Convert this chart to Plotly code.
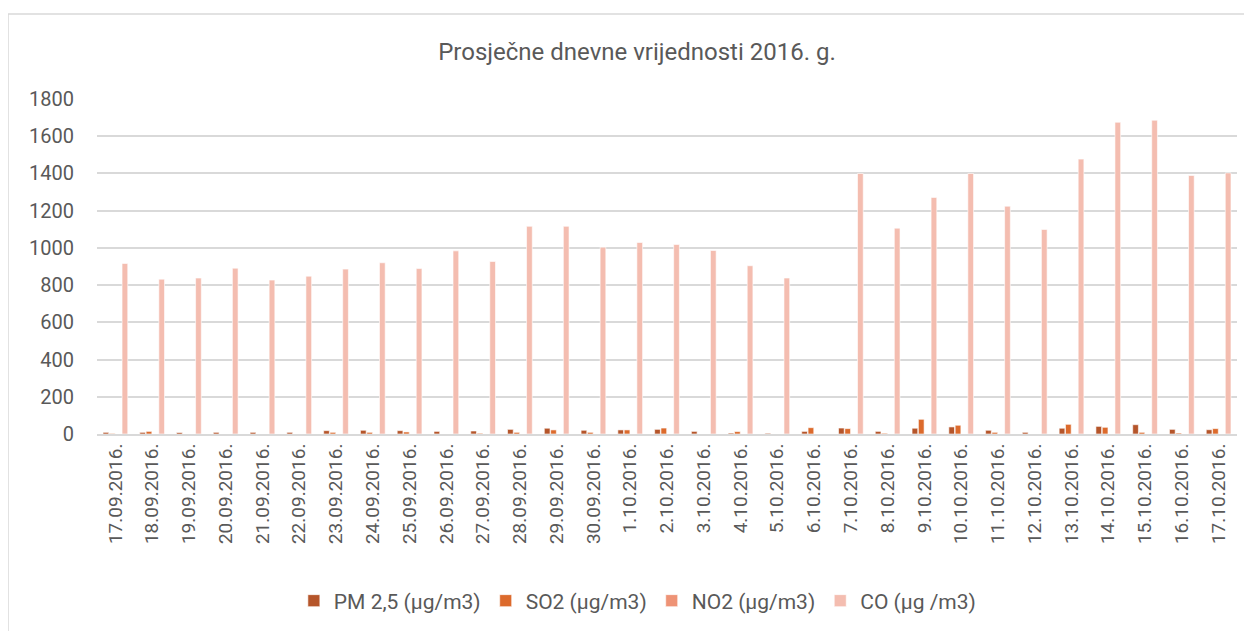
import plotly.graph_objects as go

dates = ["17.09.2016.", "18.09.2016.", "19.09.2016.", "20.09.2016.", "21.09.2016.",
         "22.09.2016.", "23.09.2016.", "24.09.2016.", "25.09.2016.", "26.09.2016.",
         "27.09.2016.", "28.09.2016.", "29.09.2016.", "30.09.2016.", "1.10.2016.",
         "2.10.2016.", "3.10.2016.", "4.10.2016.", "5.10.2016.", "6.10.2016.",
         "7.10.2016.", "8.10.2016.", "9.10.2016.", "10.10.2016.", "11.10.2016.",
         "12.10.2016.", "13.10.2016.", "14.10.2016.", "15.10.2016.", "16.10.2016.",
         "17.10.2016."]

pm25 = [9, 9, 8, 9, 9, 9, 18, 20, 18, 14, 16, 25, 31, 20, 22, 25, 14, 5, 4, 14,
        32, 14, 31, 38, 20, 9, 31, 41, 50, 25, 23]
so2 = [3, 14, 0, 0, 0, 0, 9, 9, 11, 0, 4, 9, 22, 9, 22, 32, 0, 13, 0, 34,
       29, 4, 79, 47, 9, 0, 52, 36, 9, 5, 29]
no2 = [0] * 31
co = [916, 832, 838, 891, 827, 848, 886, 920, 889, 984, 927, 1116, 1116, 1004, 1029,
      1018, 986, 904, 838, None, 1400, 1106, 1271, 1400, 1224, 1099, 1477, 1675, 1686,
      1389, 1403]

series_names = ["PM 2,5 (µg/m3)", "SO2 (µg/m3)", "NO2 (µg/m3)", "CO (µg /m3)"]
series_values = [pm25, so2, no2, co]
colors = ["#B5552A", "#DC6A2C", "#EE9376", "#F4BDB0"]

FONT = "Roboto"
GREY = "#595959"

# page body has an 8px margin: figure origin is at page (8, 8)
W, H = 1244, 623
L, T = 89, 91
PW, PH = 1140, 335

fig = go.Figure()
for name, vals, col in zip(series_names, series_values, colors):
    fig.add_trace(go.Bar(
        x=dates, y=vals, name=name,
        marker=dict(color=col, line=dict(color="white", width=0.6)),
    ))

fig.update_layout(
    width=W, height=H,
    margin=dict(l=L, r=W - L - PW, t=T, b=H - T - PH, autoexpand=False),
    paper_bgcolor="white", plot_bgcolor="white",
    barmode="group", bargap=0.31, bargroupgap=0.1,
    font=dict(family=FONT, color=GREY, size=19),
    title=dict(text="Prosječne dnevne vrijednosti 2016. g.",
               x=(637 - 8) / W, xanchor="center", xref="container",
               y=1 - (52 - 8) / H, yanchor="middle", yref="container",
               font=dict(family=FONT, size=24, color=GREY)),
    legend=dict(orientation="h", x=0.474, xanchor="center",
                y=(434 - 601) / PH, yanchor="middle",
                font=dict(family=FONT, size=21, color=GREY),
                itemwidth=30, tracegroupgap=0),
    showlegend=True,
)

fig.update_xaxes(
    type="category", tickangle=-90, showgrid=False, automargin=False,
    showline=True, linecolor="#D9D9D9", linewidth=2,
    ticks="", tickfont=dict(family=FONT, size=19, color=GREY),
)
fig.update_yaxes(
    range=[0, 1800], tickvals=[0, 200, 400, 600, 800, 1000, 1200, 1400, 1600, 1800],
    showgrid=True, gridcolor="#D9D9D9", gridwidth=1.5, automargin=False,
    zeroline=False, showline=False, ticks="",
    ticklabelstandoff=22,
    tickfont=dict(family=FONT, size=20, color=GREY),
)

# chart frame (top and left border as in the reference)
fx0 = (8 - 97) / PW
fy0 = (434 - 14) / PH
fig.add_shape(type="line", xref="paper", yref="paper",
              x0=fx0, x1=(1260 - 97) / PW, y0=fy0, y1=fy0,
              line=dict(color="#D9D9D9", width=1.5))
fig.add_shape(type="line", xref="paper", yref="paper",
              x0=fx0, x1=fx0, y0=fy0, y1=(434 - 640) / PH,
              line=dict(color="#D9D9D9", width=1.5))

fig.write_html("out.html")
